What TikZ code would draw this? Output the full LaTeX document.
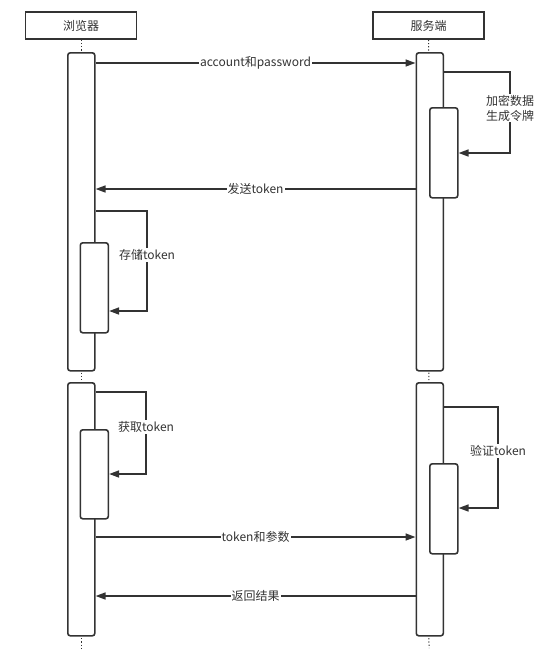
\documentclass[tikz,border=0pt]{standalone}
\usepackage{fontspec}
\setmainfont{Noto Sans CJK SC}
\usetikzlibrary{arrows.meta}
\definecolor{dark}{HTML}{333333}
\begin{document}
\begin{tikzpicture}[x=1pt,y=-1pt,
  head/.style={draw=dark, line width=1.6pt, minimum width=111pt, minimum height=27pt, inner sep=0, font=\fontsize{12}{14}\selectfont, text=dark},
  act/.style={draw=dark, fill=white, line width=1.6pt, rounded corners=2.5pt, anchor=north west, inner sep=0},
  msg/.style={draw=dark, line width=1.6pt, -{Triangle[length=10pt,width=7pt]}},
  lbl/.style={fill=white, inner sep=1pt, font=\fontsize{12}{15}\selectfont, text=dark},
  life/.style={draw=dark, line width=1pt, dash pattern=on 1.2pt off 2pt}]
\useasboundingbox (0,0) rectangle (538,651);
% headers
\node[head] (hb) at (81,25.5) {浏览器};
\node[head] (hs) at (428.5,25.5) {服务端};
% lifeline ends
\coordinate (eb) at (81,648);
\coordinate (es) at (429,648);
\draw[life] (hb.south) -- (eb);
\draw[life] (hs.south) -- (es);
% activations
\node[act, minimum width=27pt, minimum height=318pt] (b1) at (67,52) {};
\node[act, minimum width=27pt, minimum height=318pt] (s1) at (415.5,52) {};
\node[act, minimum width=27pt, minimum height=253pt] (b2) at (67,382) {};
\node[act, minimum width=27pt, minimum height=253pt] (s2) at (415.5,382) {};
% nested activations
\node[act, minimum width=28pt, minimum height=90pt] (sn1) at (429,107) {};
\node[act, minimum width=28pt, minimum height=90pt] (bn1) at (79.5,242) {};
\node[act, minimum width=28pt, minimum height=89pt] (bn2) at (79.5,429) {};
\node[act, minimum width=28pt, minimum height=90pt] (sn2) at (429,463) {};
% y levels
\coordinate (y1) at (0,63);
\coordinate (y2) at (0,189);
\coordinate (y3) at (0,537);
\coordinate (y4) at (0,596);
\coordinate (r1a) at (510,72);
\coordinate (r1b) at (510,153);
\coordinate (r2a) at (147,211);
\coordinate (r2b) at (147,311);
\coordinate (r3a) at (146,392);
\coordinate (r3b) at (146,474);
\coordinate (r4a) at (498,407);
\coordinate (r4b) at (498,508);
% messages
\draw[msg] (b1.east |- y1) -- (s1.west |- y1) node[lbl, midway] (l1) {account和password};
\draw[msg] (s1.west |- y2) -- (b1.east |- y2) node[lbl, midway] (l2) {发送token};
\draw[msg] (b2.east |- y3) -- (s2.west |- y3) node[lbl, midway] (l3) {token和参数};
\draw[msg] (s2.west |- y4) -- (b2.east |- y4) node[lbl, midway] (l4) {返回结果};
% self messages
\draw[msg] (s1.east |- r1a) -- (r1a) -- (r1b) -- (sn1.east |- r1b);
\node[lbl, align=center] (l5) at (510,108) {加密数据\\生成令牌};
\draw[msg] (b1.east |- r2a) -- (r2a) -- (r2b) -- (bn1.east |- r2b);
\node[lbl] (l6) at (147,255) {存储token};
\draw[msg] (b2.east |- r3a) -- (r3a) -- (r3b) -- (bn2.east |- r3b);
\node[lbl] (l7) at (146,427) {获取token};
\draw[msg] (s2.east |- r4a) -- (r4a) -- (r4b) -- (sn2.east |- r4b);
\node[lbl] (l8) at (498,451) {验证token};
\end{tikzpicture}
\end{document}
